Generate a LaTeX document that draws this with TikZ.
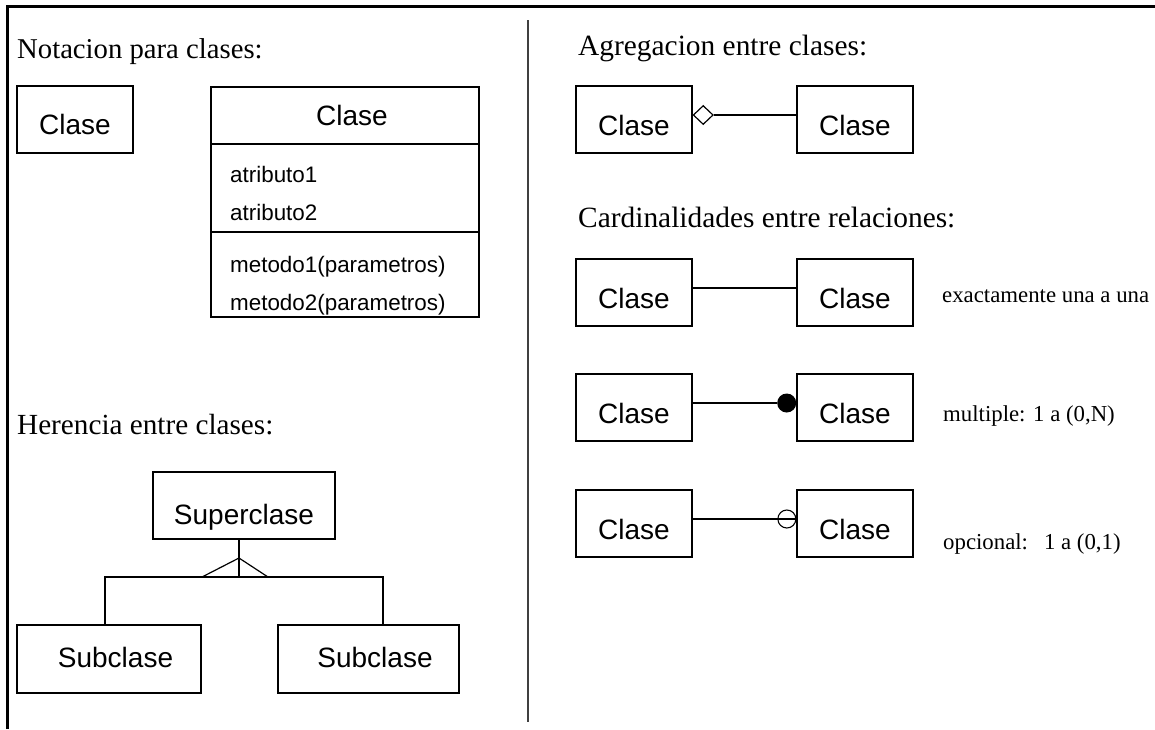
\documentclass[tikz,border=0pt]{standalone}
\usepackage{fontspec}
\setmainfont{Liberation Serif}
\setsansfont{Liberation Sans}
\usetikzlibrary{shapes.geometric,calc}
\begin{document}
\begin{tikzpicture}[x=1pt,y=-1pt,
  cbox/.style={draw=black, line width=1.2pt, rectangle, inner sep=0pt,
    font=\sffamily\fontsize{28}{30}\selectfont, text height=31pt, text depth=0pt},
  part/.style={draw=black, line width=1.2pt, rectangle, inner sep=0pt},
  heading/.style={anchor=base west, inner sep=0pt, font=\fontsize{29.4}{31}\selectfont},
  note/.style={anchor=base west, inner sep=0pt, font=\fontsize{22.8}{24}\selectfont},
  member/.style={anchor=base west, inner sep=0pt, font=\sffamily\fontsize{22.4}{24}\selectfont},
  conn/.style={line width=1.2pt},
  frame/.style={line width=3pt, black},
  divider/.style={line width=1.3pt, black!75}]
\useasboundingbox (0,0) rectangle (1155,729);

% frame and divider
\draw[frame] (7,729) -- (7,6) -- (1155,6);
\draw[divider] (528,20) -- (528,722);

% ---------- Notacion para clases ----------
\node[heading, font=\fontsize{28.7}{30}\selectfont] (t1) at (17,58) {Notacion para clases:};
\node[cbox, minimum width=116pt, minimum height=67pt, text height=29pt] (c0) at (75,119.5) {Clase};
\node[cbox, minimum width=268pt, minimum height=57pt, text height=20pt] (cname) at (345,115.5) {\hspace*{14pt}Clase};
\node[part, minimum width=268pt, minimum height=88pt] (cattr) at (345,188) {};
\node[part, minimum width=268pt, minimum height=85pt] (cmeth) at (345,274.5) {};
\node[member] (at1) at (230,182) {atributo1};
\node[member] (at2) at (230,220) {atributo2};
\node[member] (me1) at (230,272) {metodo1(parametros)};
\node[member] (me2) at (230,310) {metodo2(parametros)};

% ---------- Herencia ----------
\node[heading, font=\fontsize{29.2}{31}\selectfont] (t2) at (17,434) {Herencia entre clases:};
\node[cbox, minimum width=182pt, minimum height=67pt, text height=37pt] (sup) at (244,505.5) {Superclase};
\node[cbox, minimum width=184pt, minimum height=68pt, text height=20pt, text depth=4pt] (sub1) at (109,659) {\hspace*{13pt}Subclase};
\node[cbox, minimum width=181pt, minimum height=68pt, text height=20pt, text depth=4pt] (sub2) at (368.5,659) {\hspace*{13pt}Subclase};
\coordinate (junc) at (239,577);
\coordinate (hl) at (105,577);
\coordinate (hr) at (383,577);
\draw[conn] (sup.south -| junc) -- (junc);
\draw[conn] ($(junc)+(-37,0)$) -- ($(junc)+(0,-19)$) -- ($(junc)+(29,0)$);
\draw[conn] (sub1.north -| hl) -- (hl) -- (hr) -- (sub2.north -| hr);

% ---------- Agregacion ----------
\node[heading] (t3) at (578,55) {Agregacion entre clases:};
\node[cbox, minimum width=116pt, minimum height=67pt] (a1) at (634,119.5) {Clase};
\node[cbox, minimum width=116pt, minimum height=67pt] (a2) at (855,119.5) {Clase};
\node[diamond, draw, line width=1.2pt, fill=white, inner sep=0pt,
      minimum width=20pt, minimum height=19pt, anchor=west] (dia) at ([yshift=4.5pt]a1.east) {};
\draw[conn] (dia.east) -- (a2.west |- dia.east);

% ---------- Cardinalidades ----------
\node[heading] (t4) at (578,227) {Cardinalidades entre relaciones:};

\node[cbox, minimum width=116pt, minimum height=67pt] (r1a) at (634,292.5) {Clase};
\node[cbox, minimum width=116pt, minimum height=67pt] (r1b) at (855,292.5) {Clase};
\draw[conn] ([yshift=4.5pt]r1a.east) -- ([yshift=4.5pt]r1b.west);
\node[note] (n1) at (942,302) {exactamente una a una};

\node[cbox, minimum width=116pt, minimum height=67pt] (r2a) at (634,407.5) {Clase};
\node[cbox, minimum width=116pt, minimum height=67pt] (r2b) at (855,407.5) {Clase};
\node[circle, fill=black, inner sep=0pt, minimum size=19pt, anchor=east] (dot) at ([yshift=4.5pt]r2b.west) {};
\draw[conn] ([yshift=4.5pt]r2a.east) -- (dot.west);
\node[note] (n2) at (943,421) {multiple: 1 a (0,N)};

\node[cbox, minimum width=116pt, minimum height=67pt] (r3a) at (634,523.5) {Clase};
\node[cbox, minimum width=116pt, minimum height=67pt] (r3b) at (855,523.5) {Clase};
\node[circle, draw=black, line width=1.1pt, inner sep=0pt, minimum size=18pt, anchor=east] (ring) at ([yshift=4.5pt]r3b.west) {};
\draw[conn] ([yshift=4.5pt]r3a.east) -- ([yshift=4.5pt]r3b.west);
\node[note] (n3) at (943,549) {opcional:\hspace{16pt}1 a (0,1)};
\end{tikzpicture}
\end{document}
